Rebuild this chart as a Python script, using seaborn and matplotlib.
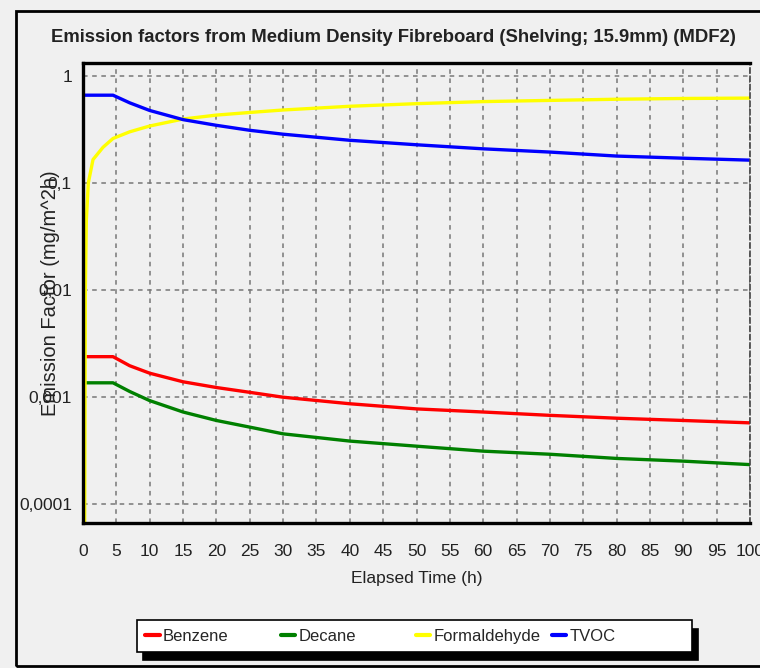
import pandas as pd
import seaborn as sns
import matplotlib.pyplot as plt
from matplotlib.patches import Rectangle
from matplotlib.ticker import MultipleLocator

# values (emission factor, mg/m^2h)
hours = [0.25, 0.35, 0.5, 0.8, 1.5, 3, 4.5, 7, 10, 15, 20, 25, 30, 40, 50, 60, 70, 80, 90, 100]
benzene = [0.00237, 0.00237, 0.00237, 0.00237, 0.00237, 0.00237, 0.00237, 0.00195, 0.00166,
           0.00138, 0.00122, 0.0011, 0.00099, 0.00086, 0.00077, 0.00072, 0.00067, 0.00063,
           0.0006, 0.00057]
decane = [0.00135, 0.00135, 0.00135, 0.00135, 0.00135, 0.00135, 0.00135, 0.00112, 0.00092,
          0.00072, 0.0006, 0.00052, 0.00045, 0.000385, 0.000345, 0.00031, 0.00029, 0.000265,
          0.00025, 0.000232]
formaldehyde = [0.00006, 0.01, 0.045, 0.1, 0.165, 0.215, 0.26, 0.3, 0.34, 0.395, 0.43, 0.455,
                0.48, 0.52, 0.55, 0.575, 0.59, 0.605, 0.615, 0.62]
tvoc = [0.66, 0.66, 0.66, 0.66, 0.66, 0.66, 0.66, 0.56, 0.475, 0.39, 0.345, 0.31, 0.285,
        0.25, 0.227, 0.208, 0.194, 0.178, 0.17, 0.163]

compounds = ["Benzene", "Decane", "Formaldehyde", "TVOC"]
colors = ["#ff0000", "#008000", "#ffff00", "#0000ff"]
y_ticks = [0.0001, 0.001, 0.01, 0.1, 1]
y_tick_labels = ["0,0001", "0,001", "0,01", "0,1", "1"]

df = pd.concat([
    pd.DataFrame({"hours": hours, "value": vals, "compound": name})
    for name, vals in zip(compounds, [benzene, decane, formaldehyde, tvoc])
])

sns.set_style("white")
plt.rcParams['font.family'] = ['Liberation Sans', 'DejaVu Sans']
bg = "#f0f0f0"

fig = plt.figure(figsize=(7.6, 6.68), dpi=100, facecolor=bg)
ax = fig.add_axes([83 / 760, 1 - 523 / 668, 667 / 760, 460 / 668])
ax.set_facecolor(bg)

sns.lineplot(data=df, x="hours", y="value", hue="compound", hue_order=compounds,
             palette=dict(zip(compounds, colors)), estimator=None, linewidth=2.4, ax=ax)

ax.set_yscale("log")
ax.set_xlim(0, 100)
ax.set_ylim(6.6e-5, 1.32)
ax.set_xticks(range(0, 101, 5))
ax.xaxis.set_minor_locator(MultipleLocator(1))
ax.set_yticks(y_ticks, y_tick_labels)
ax.yaxis.set_minor_locator(plt.NullLocator())
ax.tick_params(axis="y", which="major", direction="out", length=5, width=1,
               color="#555555", labelsize=12.5, labelcolor="#222222", pad=3)
ax.tick_params(axis="x", which="major", direction="out", length=5, width=1,
               color="#555555", labelsize=12.5, labelcolor="#222222", pad=10)
ax.tick_params(axis="x", which="minor", direction="out", length=3, width=0.8, color="#555555")
ax.grid(True, which="major", color="#777777", linestyle=(0, (3, 3)), linewidth=1.1)

for side in ["left", "top", "bottom"]:
    ax.spines[side].set_color("black")
    ax.spines[side].set_linewidth(2.4)
ax.spines["right"].set_color("#444444")
ax.spines["right"].set_linestyle((0, (3, 2)))
ax.spines["right"].set_linewidth(1.2)

ax.set_title("Emission factors from Medium Density Fibreboard (Shelving; 15.9mm) (MDF2)",
             fontsize=13.3, fontweight="bold", pad=15, x=(393 - 83) / 667, color="#222222")
ax.set_xlabel("Elapsed Time (h)", fontsize=12.5, labelpad=9, color="#222222")
ax.set_ylabel("Emission Factor (mg/m^2h)", fontsize=14.5, color="#222222")
ax.yaxis.set_label_coords(-0.034, 0.5)

handles, labels = ax.get_legend_handles_labels()
leg = ax.legend(handles, labels, ncol=4, loc="lower left",
                bbox_to_anchor=(137 / 760, 1 - 652 / 668, 555 / 760, 35 / 668),
                bbox_transform=fig.transFigure, mode="expand", frameon=True, fancybox=False,
                shadow={"ox": 4, "oy": -6, "color": "black", "alpha": 1},
                fontsize=12, handlelength=0.85, handletextpad=0.2, borderaxespad=0,
                columnspacing=0.5, borderpad=0.5)
leg.get_frame().set_edgecolor("black")
leg.get_frame().set_linewidth(1.2)
leg.get_frame().set_facecolor("white")
for line in leg.get_lines():
    line.set_linewidth(3)
# fixed-width columns like the original legend
for col in leg._legend_handle_box.get_children():
    col.align = "left"
    col.width = 132

fig.patches.append(Rectangle((16 / 760, 2 / 668), 1.0, 1 - 13 / 668, transform=fig.transFigure,
                             fill=False, edgecolor="black", linewidth=2))

fig.savefig("out.png", dpi=100, facecolor=bg)
